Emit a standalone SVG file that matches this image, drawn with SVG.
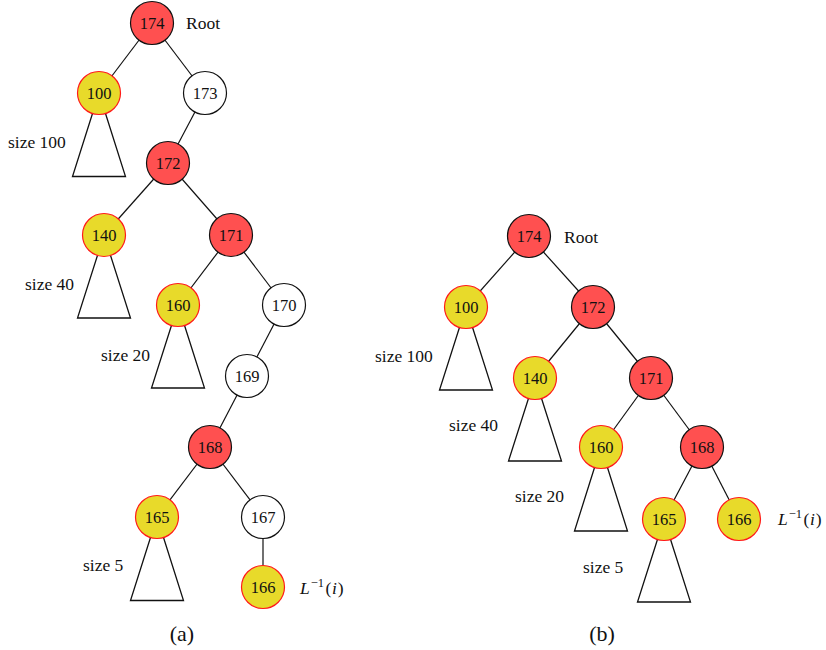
<svg xmlns="http://www.w3.org/2000/svg" width="826" height="650" viewBox="0 0 826 650">
<style>
text{font-family:"Liberation Serif","DejaVu Serif",serif;fill:#111}
.n text{font-size:16.5px;text-anchor:middle}
.lbl{font-size:17.5px}
.cap{font-size:22px;text-anchor:middle}
.r{fill:#ff5050;stroke:#111;stroke-width:1.2}
.y{fill:#e8da2a;stroke:#ff1a1a;stroke-width:1.2}
.w{fill:#fff;stroke:#111;stroke-width:1.2}
.e line{stroke:#111;stroke-width:1.2}
.t{fill:#fff;stroke:#111;stroke-width:1.3;stroke-linejoin:miter}
</style>
<rect width="826" height="650" fill="#fff"/>
<g id="connectors" class="e">
<line x1="152" y1="23" x2="99" y2="93"/>
<line x1="152" y1="23" x2="205" y2="93"/>
<line x1="205" y1="93" x2="168" y2="163"/>
<line x1="168" y1="163" x2="104" y2="235"/>
<line x1="168" y1="163" x2="231" y2="235"/>
<line x1="231" y1="235" x2="178" y2="305"/>
<line x1="231" y1="235" x2="284" y2="305"/>
<line x1="284" y1="305" x2="247" y2="376"/>
<line x1="247" y1="376" x2="210" y2="447"/>
<line x1="210" y1="447" x2="157" y2="517"/>
<line x1="210" y1="447" x2="263" y2="517"/>
<line x1="263" y1="517" x2="263" y2="587"/>
<line x1="529" y1="236" x2="466" y2="307"/>
<line x1="529" y1="236" x2="593" y2="307"/>
<line x1="593" y1="307" x2="535" y2="378"/>
<line x1="593" y1="307" x2="651" y2="378"/>
<line x1="651" y1="378" x2="601" y2="447"/>
<line x1="651" y1="378" x2="702" y2="447"/>
<line x1="702" y1="447" x2="664" y2="519"/>
<line x1="702" y1="447" x2="739" y2="519"/>
</g>
<g id="subtrees">
<polygon class="t" points="99,93 72.5,176.5 125.5,176.5"/>
<polygon class="t" points="104,235 77.5,318 130.5,318"/>
<polygon class="t" points="178,305 151.5,388 204.5,388"/>
<polygon class="t" points="157,517 130.5,600.5 183.5,600.5"/>
<polygon class="t" points="466,307 439.5,390 492.5,390"/>
<polygon class="t" points="535,378 508.5,461 561.5,461"/>
<polygon class="t" points="601,447 574.5,531 627.5,531"/>
<polygon class="t" points="664,519 637.5,602 690.5,602"/>
</g>
<g id="a174" class="n"><circle class="r" cx="152" cy="23" r="21.5"/><text x="152" y="28.5">174</text></g>
<g id="a100" class="n"><circle class="y" cx="99" cy="93" r="21.5"/><text x="99" y="98.5">100</text></g>
<g id="a173" class="n"><circle class="w" cx="205" cy="93" r="21.5"/><text x="205" y="98.5">173</text></g>
<g id="a172" class="n"><circle class="r" cx="168" cy="163" r="21.5"/><text x="168" y="168.5">172</text></g>
<g id="a140" class="n"><circle class="y" cx="104" cy="235" r="21.5"/><text x="104" y="240.5">140</text></g>
<g id="a171" class="n"><circle class="r" cx="231" cy="235" r="21.5"/><text x="231" y="240.5">171</text></g>
<g id="a160" class="n"><circle class="y" cx="178" cy="305" r="21.5"/><text x="178" y="310.5">160</text></g>
<g id="a170" class="n"><circle class="w" cx="284" cy="305" r="21.5"/><text x="284" y="310.5">170</text></g>
<g id="a169" class="n"><circle class="w" cx="247" cy="376" r="21.5"/><text x="247" y="381.5">169</text></g>
<g id="a168" class="n"><circle class="r" cx="210" cy="447" r="21.5"/><text x="210" y="452.5">168</text></g>
<g id="a165" class="n"><circle class="y" cx="157" cy="517" r="21.5"/><text x="157" y="522.5">165</text></g>
<g id="a167" class="n"><circle class="w" cx="263" cy="517" r="21.5"/><text x="263" y="522.5">167</text></g>
<g id="a166" class="n"><circle class="y" cx="263" cy="587" r="21.5"/><text x="263" y="592.5">166</text></g>
<g id="b174" class="n"><circle class="r" cx="529" cy="236" r="21.5"/><text x="529" y="241.5">174</text></g>
<g id="b100" class="n"><circle class="y" cx="466" cy="307" r="21.5"/><text x="466" y="312.5">100</text></g>
<g id="b172" class="n"><circle class="r" cx="593" cy="307" r="21.5"/><text x="593" y="312.5">172</text></g>
<g id="b140" class="n"><circle class="y" cx="535" cy="378" r="21.5"/><text x="535" y="383.5">140</text></g>
<g id="b171" class="n"><circle class="r" cx="651" cy="378" r="21.5"/><text x="651" y="383.5">171</text></g>
<g id="b160" class="n"><circle class="y" cx="601" cy="447" r="21.5"/><text x="601" y="452.5">160</text></g>
<g id="b168" class="n"><circle class="r" cx="702" cy="447" r="21.5"/><text x="702" y="452.5">168</text></g>
<g id="b165" class="n"><circle class="y" cx="664" cy="519" r="21.5"/><text x="664" y="524.5">165</text></g>
<g id="b166" class="n"><circle class="y" cx="739" cy="519" r="21.5"/><text x="739" y="524.5">166</text></g>
<g id="labels" class="lbl">
<text x="186" y="29">Root</text>
<text x="564" y="242.5">Root</text>
<text x="8" y="148">size 100</text>
<text x="25" y="289.5">size 40</text>
<text x="101" y="360.5">size 20</text>
<text x="83" y="571">size 5</text>
<text x="375" y="361.5">size 100</text>
<text x="449" y="431">size 40</text>
<text x="515" y="502">size 20</text>
<text x="583" y="573">size 5</text>
<text x="300" y="593.5"><tspan font-style="italic">L</tspan><tspan font-size="12.5" dx="1" dy="-6.5">−1</tspan><tspan dx="1.5" dy="6.5">(</tspan><tspan font-style="italic" dx="0.5">i</tspan><tspan dx="1">)</tspan></text>
<text x="778" y="524.5"><tspan font-style="italic">L</tspan><tspan font-size="12.5" dx="1" dy="-6.5">−1</tspan><tspan dx="1.5" dy="6.5">(</tspan><tspan font-style="italic" dx="0.5">i</tspan><tspan dx="1">)</tspan></text>
</g>
<g id="captions">
<text class="cap" x="182" y="641">(a)</text>
<text class="cap" x="602" y="641">(b)</text>
</g>
</svg>
